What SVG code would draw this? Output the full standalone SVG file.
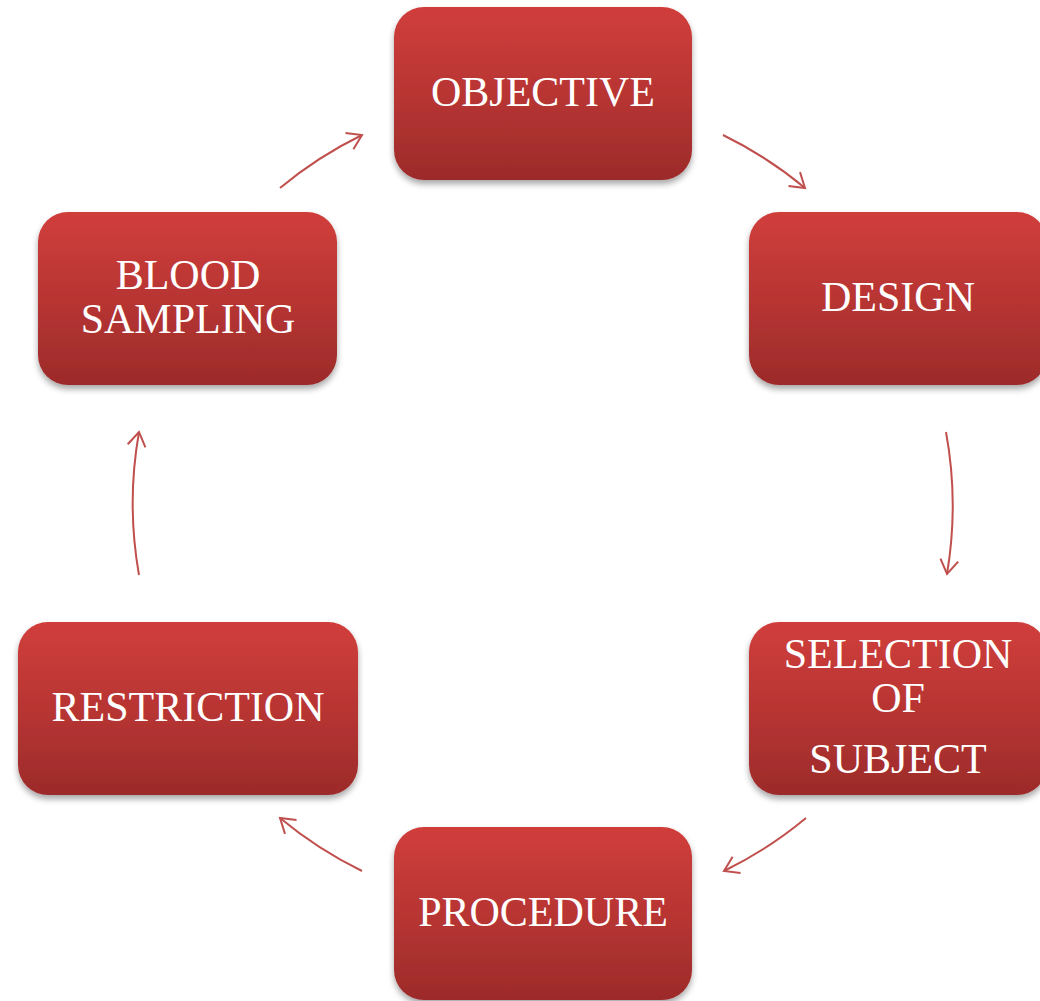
<svg xmlns="http://www.w3.org/2000/svg" width="1040" height="1001" viewBox="0 0 1040 1001">
<defs>
<linearGradient id="g" x1="0" y1="0" x2="0" y2="1">
<stop offset="0" stop-color="#d03e3b"/>
<stop offset="0.5" stop-color="#b83533"/>
<stop offset="1" stop-color="#9c2b2a"/>
</linearGradient>
<filter id="sh" x="-10%" y="-10%" width="120%" height="130%">
<feDropShadow dx="0" dy="4" stdDeviation="3" flood-color="#000" flood-opacity="0.35"/>
</filter>
<marker id="ah" markerUnits="userSpaceOnUse" markerWidth="30" markerHeight="30" refX="15" refY="15" orient="auto" overflow="visible">
<path d="M 1 6 L 15 15 L 1 24" fill="none" stroke="#c0504d" stroke-width="2"/>
</marker>
<style>
.box{fill:url(#g);filter:url(#sh);}
.t{font-family:"Liberation Serif","Times New Roman",serif;font-size:42px;fill:#fff;text-anchor:middle;}
.c{fill:none;stroke:#c0504d;stroke-width:2;marker-end:url(#ah);}
</style>
</defs>
<rect width="1040" height="1001" fill="#fff"/>
<g id="connectors">
<path class="c" d="M 280 188 A 410 410 0 0 1 362 135"/>
<path class="c" d="M 723 135 A 410 410 0 0 1 805 188"/>
<path class="c" d="M 946 432 A 410 410 0 0 1 947 574"/>
<path class="c" d="M 806 818 A 410 410 0 0 1 724 871"/>
<path class="c" d="M 362 871 A 410 410 0 0 1 280 818"/>
<path class="c" d="M 139 575 A 410 410 0 0 1 139 432"/>
</g>
<g id="objective">
<rect class="box" x="394" y="7" width="298" height="173" rx="30"/>
<text class="t" x="543" y="106">OBJECTIVE</text>
</g>
<g id="design">
<rect class="box" x="749" y="212" width="298" height="173" rx="30"/>
<text class="t" x="898" y="311">DESIGN</text>
</g>
<g id="selection">
<rect class="box" x="749" y="622" width="298" height="173" rx="30"/>
<text class="t" x="898" y="668">SELECTION</text>
<text class="t" x="898" y="712">OF</text>
<text class="t" x="898" y="773">SUBJECT</text>
</g>
<g id="procedure">
<rect class="box" x="394" y="827" width="298" height="173" rx="30"/>
<text class="t" x="543" y="926">PROCEDURE</text>
</g>
<g id="restriction">
<rect class="box" x="18" y="622" width="340" height="173" rx="30"/>
<text class="t" x="188" y="721">RESTRICTION</text>
</g>
<g id="blood-sampling">
<rect class="box" x="38" y="212" width="299" height="173" rx="30"/>
<text class="t" x="188" y="289">BLOOD</text>
<text class="t" x="188" y="333">SAMPLING</text>
</g>
</svg>
